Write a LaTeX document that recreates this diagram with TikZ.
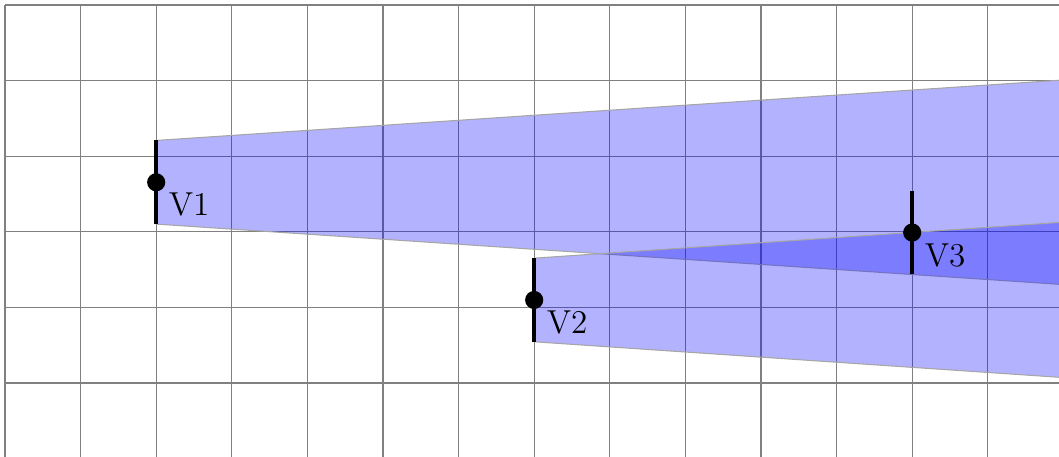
\documentclass[tikz,border=0pt]{standalone}
\usetikzlibrary{calc}
\begin{document}
\begin{tikzpicture}[
  gridline/.style={gray, line width=0.4pt},
  beam/.style={draw=black!35, line width=0.4pt, fill=blue, fill opacity=0.3},
  vbar/.style={line width=1.6pt, black},
  vdot/.style={circle, fill=black, inner sep=0pt, minimum size=0.24cm},
  lbl/.style={inner sep=0pt, anchor=base west, font=\fontsize{12.5}{15}\selectfont}
]
\useasboundingbox (-0.066,0.034) rectangle (13.942,6.066);
\clip (-0.066,0.034) rectangle (13.942,6.066);
\draw[gridline] (0,0) grid (14,6);
\coordinate (v1) at (2,3.655);
\coordinate (v2) at (7,2.098);
\coordinate (v3) at (12,2.99);
% beams
\fill[beam] ([yshift=0.553cm]v1) -- (15,5.075) -- (15,2.235) -- ([yshift=-0.553cm]v1) -- cycle;
\fill[beam] ([yshift=0.553cm]v2) -- (15,3.195) -- (15,1.004) -- ([yshift=-0.553cm]v2) -- cycle;
% bars
\draw[vbar] ([yshift=0.553cm]v1) -- ([yshift=-0.553cm]v1);
\draw[vbar] ([yshift=0.553cm]v2) -- ([yshift=-0.553cm]v2);
\draw[vbar] ([yshift=0.553cm]v3) -- ([yshift=-0.553cm]v3);
\node[vdot] (d1) at (v1) {};
\node[vdot] (d2) at (v2) {};
\node[vdot] (d3) at (v3) {};
\node[lbl] (l1) at ([shift={(0.16,-0.445)}]v1) {V1};
\node[lbl] (l2) at ([shift={(0.16,-0.445)}]v2) {V2};
\node[lbl] (l3) at ([shift={(0.16,-0.445)}]v3) {V3};
\end{tikzpicture}
\end{document}
